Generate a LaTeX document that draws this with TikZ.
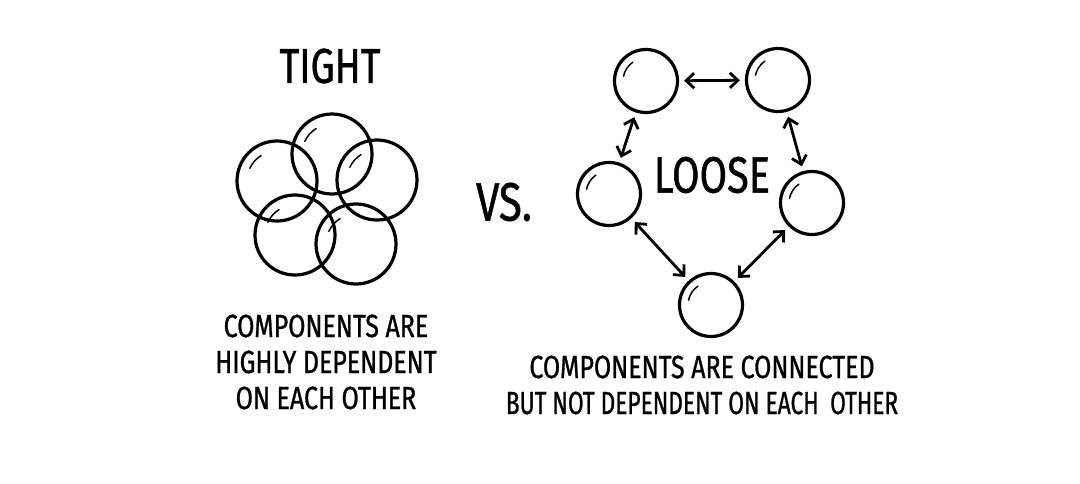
\documentclass[tikz,border=0pt]{standalone}
\usepackage{fontspec}
\setmainfont{Fira Sans}[FakeStretch=0.78,FakeBold=0.9]
\usetikzlibrary{arrows.meta}
\begin{document}
\begin{tikzpicture}[x=1pt,y=-1pt,
  big/.style={circle,draw,line width=3.2pt,minimum size=80pt,inner sep=0pt},
  small/.style={circle,draw,line width=3.2pt,minimum size=63pt,inner sep=0pt},
  hl/.style={line width=1.5pt,line cap=round},
  link/.style={line width=2.8pt,{Straight Barb[length=8pt,width=15pt]}-{Straight Barb[length=8pt,width=15pt]},shorten <=5pt,shorten >=5pt},
  title/.style={font=\fontsize{49}{52}\selectfont},
  caption/.style={align=center,font=\fontsize{32}{36}\selectfont}]
\useasboundingbox (0,0) rectangle (1080,484);
% tight
\node[title] (tight) at (330,66) {TIGHT};
\node[big] (t1) at (332,154) {};
\node[big] (t2) at (277,181) {};
\node[big] (t3) at (377,180) {};
\node[big] (t4) at (295,235) {};
\node[big] (t5) at (356,244) {};
\foreach \n in {t1,t2,t3,t4,t5}
  \draw[hl] (\n.center) ++(-155:30) arc[start angle=-155,end angle=-122,radius=30];
\node[align=center,caption] (tcap) at (326,362) {COMPONENTS ARE\\HIGHLY DEPENDENT\\ON EACH OTHER};
% vs
\node[font=\fontsize{54}{58}\selectfont] (vs) at (504,202) {VS.};
% loose
\node[title,font=\fontsize{51}{54}\selectfont] (loose) at (712,175) {LOOSE};
\node[small] (l1) at (646,81) {};
\node[small] (l2) at (778,80) {};
\node[small] (l3) at (609,194) {};
\node[small] (l4) at (812,203) {};
\node[small] (l5) at (711,305) {};
\foreach \n in {l1,l2,l3,l4,l5}
  \draw[hl] (\n.center) ++(-168:23) arc[start angle=-168,end angle=-125,radius=23];
\draw[link] (l1) -- (l2);
\draw[link] (l1) -- (l3);
\draw[link] (l2) -- (l4);
\draw[link] (l3) -- (l5);
\draw[link] (l4) -- (l5);
\node[caption] (lcap) at (702,385) {COMPONENTS ARE CONNECTED\\\scalebox{0.91}[1]{BUT NOT DEPENDENT ON EACH\hspace{6pt} OTHER}};
\end{tikzpicture}
\end{document}
